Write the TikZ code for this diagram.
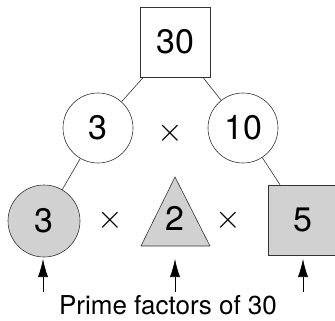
\documentclass[tikz,border=0pt]{standalone}
\usepackage{graphicx}
\usepackage{fontspec}
\setmainfont{TeX Gyre Heros}
\usetikzlibrary{arrows.meta}

\newcommand{\bigtimes}{\scalebox{3.3}{$\times$}}

\tikzset{
  tree/.style={draw=black!80,line width=0.6pt,inner sep=0pt,
    font=\fontsize{34}{36}\selectfont},
  boxnode/.style={tree,rectangle,minimum size=70pt},
  ballnode/.style={tree,circle,minimum size=70pt},
  factor/.style={fill=black!18},
  timesnode/.style={inner sep=0pt},
  link/.style={draw=black!80,line width=0.6pt},
  pointer/.style={black,line width=0.6pt,-{Latex[length=18pt,width=10pt]}}
}

\begin{document}
\begin{tikzpicture}[x=1pt,y=-1pt]
\useasboundingbox (0,0) rectangle (335,321);
% first row
\node[boxnode] (top) at (175,42) {30};
% second row
\node[ballnode] (c3) at (98,128) {3};
\node[ballnode] (c10) at (243,128) {10};
\node[timesnode] (t1) at (170,133) {\bigtimes};
% third row
\node[ballnode,factor,minimum size=72pt] (b3) at (44,221) {3};
\coordinate (tri-a) at (175,177);
\coordinate (tri-l) at (141,246);
\coordinate (tri-r) at (210,246);
\filldraw[link,factor] (tri-a) -- (tri-r) -- (tri-l) -- cycle;
\node[tree,draw=none] (b2) at (175,218) {2};
\node[boxnode,factor] (b5) at (303,220) {5};
\node[timesnode] (t2) at (110,220) {\bigtimes};
\node[timesnode] (t3) at (228,220) {\bigtimes};
% links
\draw[link] (top) -- (c3);
\draw[link] (top) -- (c10);
\draw[link] (c3) -- (b3);
\draw[link] (c10) -- (b5);
% caption with arrows
\node[font=\fontsize{26}{30}\selectfont,inner sep=0pt] (caption) at (168,305) {Prime factors of 30};
\foreach \x/\n in {43/p3,175/p2,303/p5} {
  \coordinate (\n-tail) at (\x,292);
  \coordinate (\n-tip) at (\x,259);
  \draw[pointer] (\n-tail) -- (\n-tip);
}
\end{tikzpicture}
\end{document}
